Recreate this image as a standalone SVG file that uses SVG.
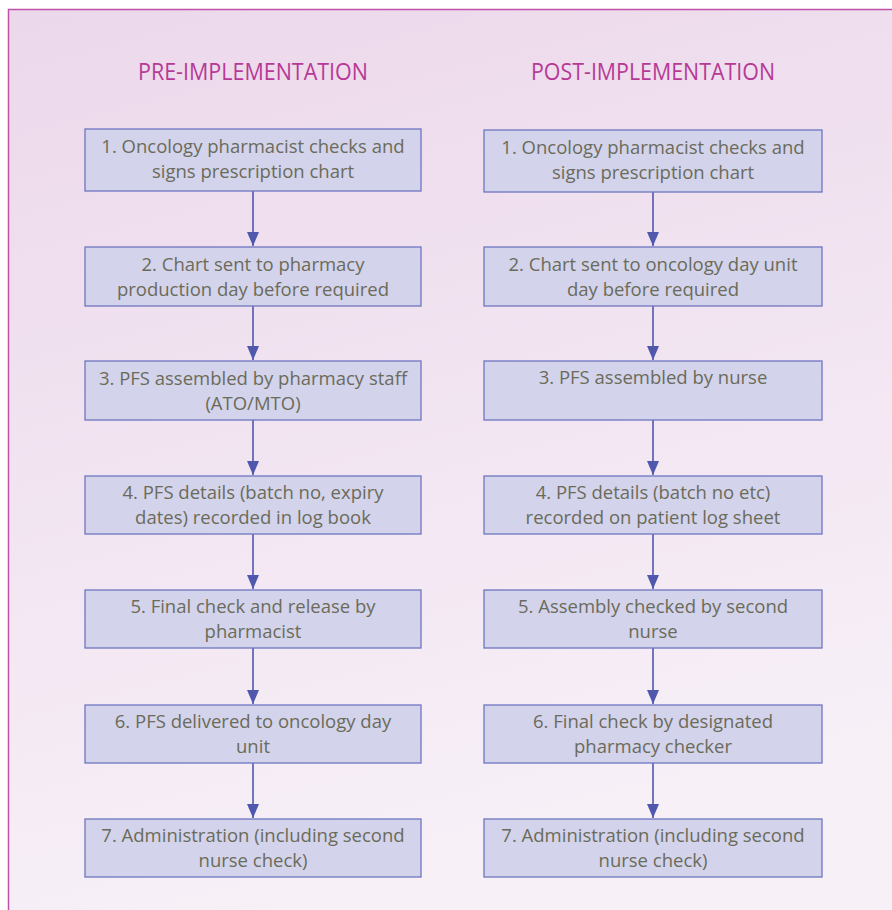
<svg xmlns="http://www.w3.org/2000/svg" width="892" height="910" viewBox="0 0 892 910">
<defs>
<linearGradient id="bg" x1="0" y1="0" x2="0.25" y2="1">
<stop offset="0" stop-color="#ecd8eb"/>
<stop offset="1" stop-color="#f7f0f7"/>
</linearGradient>
<marker id="ah" markerWidth="14" markerHeight="12" refX="14" refY="6" orient="auto" markerUnits="userSpaceOnUse" viewBox="0 0 14 12">
<path d="M0,0 L14,6 L0,12 Z" fill="#5058ae"/>
</marker>
<style>
.box{fill:#d3d3ec;stroke:#6e76bf;stroke-width:1.3}
.t{font-family:"Open Sans","DejaVu Sans",sans-serif;font-size:18.5px;fill:#6b6b5a;text-anchor:middle}
.h{font-family:"Open Sans","DejaVu Sans",sans-serif;font-size:24px;fill:#b63a95;text-anchor:middle}
.c{stroke:#5058ae;stroke-width:1.6;fill:none}
</style>
</defs>
<rect x="0" y="0" width="892" height="910" fill="#ffffff"/>
<rect x="8" y="9" width="890" height="910" fill="url(#bg)"/>
<path d="M8.5,910 L8.5,9.5 L892,9.5" fill="none" stroke="#c050a8" stroke-width="1.5"/>
<text class="h" x="253" y="80" textLength="230" lengthAdjust="spacingAndGlyphs">PRE-IMPLEMENTATION</text>
<text class="h" x="653" y="80" textLength="244" lengthAdjust="spacingAndGlyphs">POST-IMPLEMENTATION</text>
<g id="connectors">
<line class="c" x1="253" y1="191" x2="253" y2="246" marker-end="url(#ah)"/>
<line class="c" x1="253" y1="306" x2="253" y2="360" marker-end="url(#ah)"/>
<line class="c" x1="253" y1="420" x2="253" y2="475" marker-end="url(#ah)"/>
<line class="c" x1="253" y1="534" x2="253" y2="589" marker-end="url(#ah)"/>
<line class="c" x1="253" y1="648" x2="253" y2="704" marker-end="url(#ah)"/>
<line class="c" x1="253" y1="763" x2="253" y2="818" marker-end="url(#ah)"/>
<line class="c" x1="653" y1="192" x2="653" y2="246" marker-end="url(#ah)"/>
<line class="c" x1="653" y1="306" x2="653" y2="360" marker-end="url(#ah)"/>
<line class="c" x1="653" y1="420" x2="653" y2="475" marker-end="url(#ah)"/>
<line class="c" x1="653" y1="534" x2="653" y2="589" marker-end="url(#ah)"/>
<line class="c" x1="653" y1="648" x2="653" y2="704" marker-end="url(#ah)"/>
<line class="c" x1="653" y1="763" x2="653" y2="818" marker-end="url(#ah)"/>
</g>
<g id="pre1"><rect class="box" x="85" y="129" width="336" height="62"/><text class="t" x="253" y="153">1. Oncology pharmacist checks and</text><text class="t" x="253" y="178">signs prescription chart</text></g>
<g id="pre2"><rect class="box" x="85" y="247" width="336" height="59"/><text class="t" x="253" y="271">2. Chart sent to pharmacy</text><text class="t" x="253" y="296">production day before required</text></g>
<g id="pre3"><rect class="box" x="85" y="361" width="336" height="59"/><text class="t" x="253" y="385">3. PFS assembled by pharmacy staff</text><text class="t" x="253" y="410">(ATO/MTO)</text></g>
<g id="pre4"><rect class="box" x="85" y="476" width="336" height="58"/><text class="t" x="253" y="499">4. PFS details (batch no, expiry</text><text class="t" x="253" y="524">dates) recorded in log book</text></g>
<g id="pre5"><rect class="box" x="85" y="590" width="336" height="58"/><text class="t" x="253" y="613">5. Final check and release by</text><text class="t" x="253" y="638">pharmacist</text></g>
<g id="pre6"><rect class="box" x="85" y="705" width="336" height="58"/><text class="t" x="253" y="728">6. PFS delivered to oncology day</text><text class="t" x="253" y="753">unit</text></g>
<g id="pre7"><rect class="box" x="85" y="819" width="336" height="58"/><text class="t" x="253" y="842">7. Administration (including second</text><text class="t" x="253" y="867">nurse check)</text></g>
<g id="post1"><rect class="box" x="484" y="130" width="338" height="62"/><text class="t" x="653" y="154">1. Oncology pharmacist checks and</text><text class="t" x="653" y="179">signs prescription chart</text></g>
<g id="post2"><rect class="box" x="484" y="247" width="338" height="59"/><text class="t" x="653" y="271">2. Chart sent to oncology day unit</text><text class="t" x="653" y="296">day before required</text></g>
<g id="post3"><rect class="box" x="484" y="361" width="338" height="59"/><text class="t" x="653" y="384">3. PFS assembled by nurse</text></g>
<g id="post4"><rect class="box" x="484" y="476" width="338" height="58"/><text class="t" x="653" y="499">4. PFS details (batch no etc)</text><text class="t" x="653" y="524">recorded on patient log sheet</text></g>
<g id="post5"><rect class="box" x="484" y="590" width="338" height="58"/><text class="t" x="653" y="613">5. Assembly checked by second</text><text class="t" x="653" y="638">nurse</text></g>
<g id="post6"><rect class="box" x="484" y="705" width="338" height="58"/><text class="t" x="653" y="728">6. Final check by designated</text><text class="t" x="653" y="753">pharmacy checker</text></g>
<g id="post7"><rect class="box" x="484" y="819" width="338" height="58"/><text class="t" x="653" y="842">7. Administration (including second</text><text class="t" x="653" y="867">nurse check)</text></g>
</svg>
